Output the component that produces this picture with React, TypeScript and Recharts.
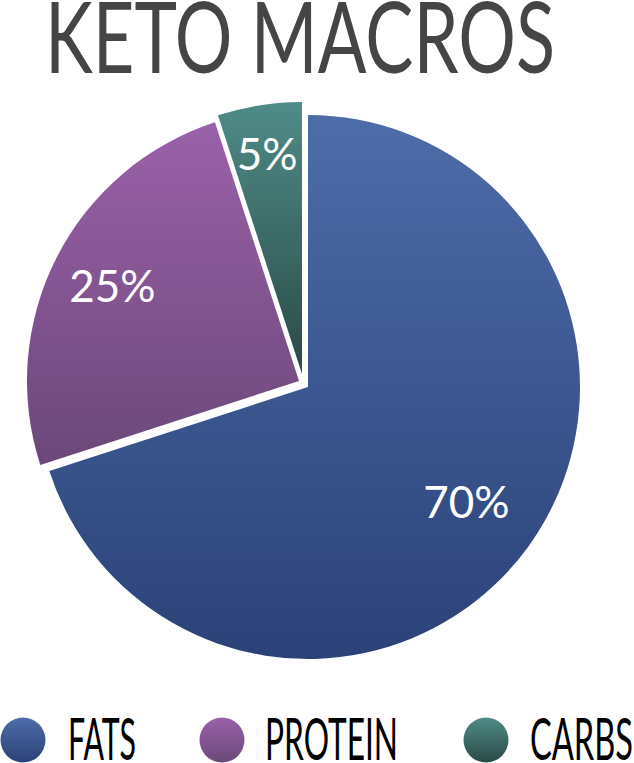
import { PieChart, Pie, Cell, Legend } from 'recharts'

const names = ['FATS', 'PROTEIN', 'CARBS']
const shares = [70, 25, 5]
const topColors = ['#4d6ca9', '#9a61a9', '#4f8b87']
const bottomColors = ['#2b4278', '#6b4879', '#2a4a47']

const data = names.map((name, i) => ({ name, value: shares[i] }))

// each slice is drawn by its own Pie so it can be pulled out a little
const centers = [
  { cx: 308, cy: 387 },
  { cx: 299, cy: 381 },
  { cx: 302, cy: 374 },
]
const labelRadius = [0.72, 0.77, 0.82]
const legendCircleX = [23, 222, 486]
const legendTextX = [68, 265, 530]
const legendTextW = [68, 133, 103]

const RADIAN = Math.PI / 180

const sliceLabel = (own: number) => (props: any) => {
  const { cx, cy, midAngle, outerRadius, index, value } = props
  if (index !== own) return null
  const r = outerRadius * labelRadius[own]
  const x = cx + r * Math.cos(-midAngle * RADIAN)
  const y = cy + r * Math.sin(-midAngle * RADIAN)
  return (
    <text x={x} y={y + 16} fill="#fff" textAnchor="middle" fontFamily="Lato" fontSize={44}>
      {value}%
    </text>
  )
}

const LegendRow = () => (
  <svg width={634} height={63}>
    {names.map((n, i) => (
      <g key={n}>
        <circle cx={legendCircleX[i]} cy={40} r={22.5} fill={`url(#grad${i})`} />
        <text
          x={legendTextX[i]}
          y={60}
          fontFamily="Lato"
          fontSize={58}
          fill="#000"
          textLength={legendTextW[i]}
          lengthAdjust="spacingAndGlyphs"
        >
          {n}
        </text>
      </g>
    ))}
  </svg>
)

export default function App() {
  return (
    <div style={{ position: 'absolute', left: 0, top: 0, width: 634, height: 763 }}>
      <PieChart width={634} height={763} margin={{ top: 0, right: 0, bottom: 0, left: 0 }}>
        <defs>
          {names.map((n, i) => (
            <linearGradient key={n} id={`grad${i}`} x1="0" y1="0" x2="0" y2="1">
              <stop offset="0%" stopColor={topColors[i]} />
              <stop offset="100%" stopColor={bottomColors[i]} />
            </linearGradient>
          ))}
        </defs>
        <text
          x={45}
          y={73}
          fontFamily="Lato"
          fontSize={98}
          fill="#454545"
          textLength={510}
          lengthAdjust="spacingAndGlyphs"
        >
          KETO MACROS
        </text>
        {centers.map((c, own) => (
          <Pie
            key={own}
            data={data}
            dataKey="value"
            nameKey="name"
            cx={c.cx}
            cy={c.cy}
            outerRadius={272}
            startAngle={90}
            endAngle={-270}
            stroke="none"
            label={sliceLabel(own)}
            labelLine={false}
            isAnimationActive={false}
          >
            {data.map((d, i) => (
              <Cell key={d.name} fill={i === own ? `url(#grad${i})` : 'none'} />
            ))}
          </Pie>
        ))}
        <Legend
          content={<LegendRow />}
          wrapperStyle={{ position: 'absolute', left: 0, top: 700, width: 634, height: 63 }}
        />
      </PieChart>
    </div>
  )
}
